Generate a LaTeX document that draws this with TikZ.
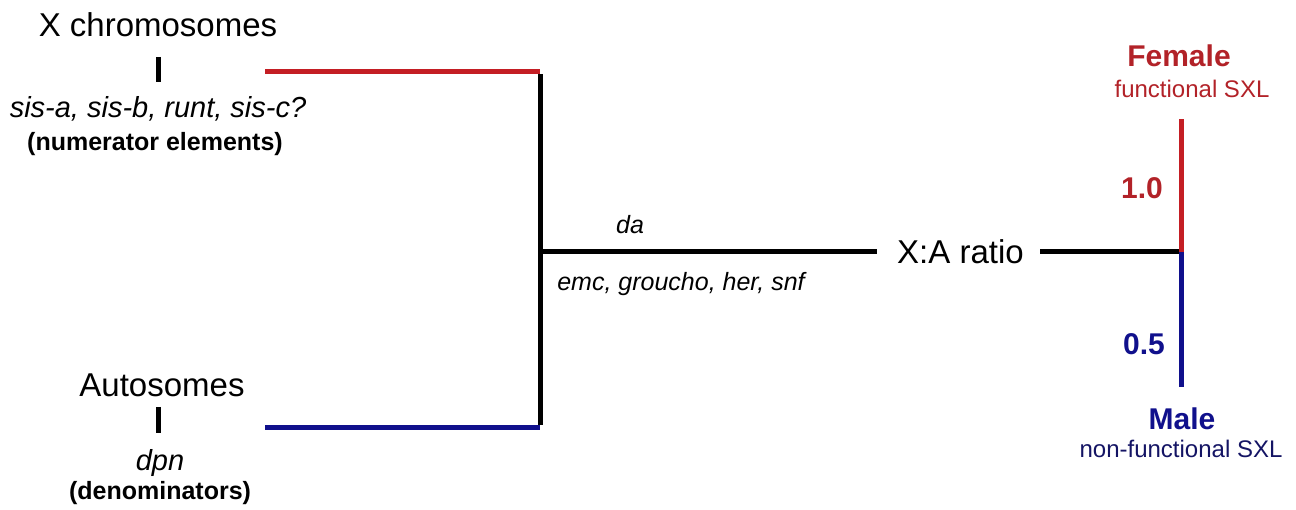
\documentclass[tikz,border=0pt]{standalone}
\usepackage{fontspec}
\setmainfont{Liberation Sans}
\definecolor{xred}{RGB}{196,30,36}
\definecolor{tred}{RGB}{178,34,40}
\definecolor{xblue}{RGB}{16,16,140}
\definecolor{tnavy}{RGB}{20,20,100}
\newcommand{\fs}[1]{\fontsize{#1}{#1}\selectfont}
\tikzset{
  lbl/.style={inner sep=0pt, anchor=base},
  big/.style={lbl, font=\fs{33}},
  gene/.style={lbl, font=\fs{29}\itshape},
  small/.style={lbl, font=\fs{25}\bfseries},
  mod/.style={lbl, font=\fs{25}\itshape},
  sexl/.style={lbl, font=\fs{30}\bfseries},
  sxl/.style={lbl, font=\fs{24}},
  wire/.style={line width=5pt, line cap=butt},
}
\begin{document}
\begin{tikzpicture}[x=1pt,y=-1pt]
\useasboundingbox (0,0) rectangle (1296,510);
% left labels
\node[big] (xchr) at (158,37) {X chromosomes};
\node[gene] (num) at (158,118) {sis-a, sis-b, runt, sis-c?};
\node[small] (numl) at (155,151) {(numerator elements)};
\node[big] (auto) at (162,397) {Autosomes};
\node[gene] (dpn) at (160,470) {dpn};
\node[small] (den) at (160,499) {(denominators)};
% ticks
\coordinate (t1a) at (158,57); \coordinate (t1b) at (158,82);
\coordinate (t2a) at (158,407); \coordinate (t2b) at (158,433);
\draw[wire] (t1a) -- (t1b);
\draw[wire] (t2a) -- (t2b);
% collecting bracket
\coordinate (rs) at (265,72); \coordinate (rj) at (540,72);
\coordinate (bs) at (265,428); \coordinate (bj) at (540,428);
\coordinate (mj) at (540,252);
\draw[wire, xred] (rs) -- (rj);
\draw[wire, xblue] (bs) -- (bj);
\draw[wire] ([yshift=-2.5pt]rj) -- ([yshift=2.5pt]bj);
% middle
\node[mod] (da) at (630,234) {da};
\node[mod] (emc) at (681,291) {emc, groucho, her, snf};
\node[big, anchor=base west] (ratio) at (897,264) {X:A ratio};
\coordinate (re) at (877,252);
\draw[wire] (mj) -- (re);
\coordinate (rs2) at (1040,252);
\coordinate (sj) at (1181,252);
\coordinate (ft) at (1181,119);
\coordinate (mb) at (1181,387);
\draw[wire] (rs2) -- ([xshift=2.5pt]sj);
\draw[wire, xred] (sj) -- (ft);
\draw[wire, xblue] (sj) -- (mb);
% right labels
\node[sexl, text=tred] (fem) at (1179,67) {Female};
\node[sxl, text=tred] (fsxl) at (1192,98) {functional SXL};
\node[sexl, text=tred] (one) at (1142,199) {1.0};
\node[sexl, text=xblue] (half) at (1144,355) {0.5};
\node[sexl, text=xblue] (male) at (1182,429) {Male};
\node[sxl, text=tnavy] (msxl) at (1181,457) {non-functional SXL};
\end{tikzpicture}
\end{document}
